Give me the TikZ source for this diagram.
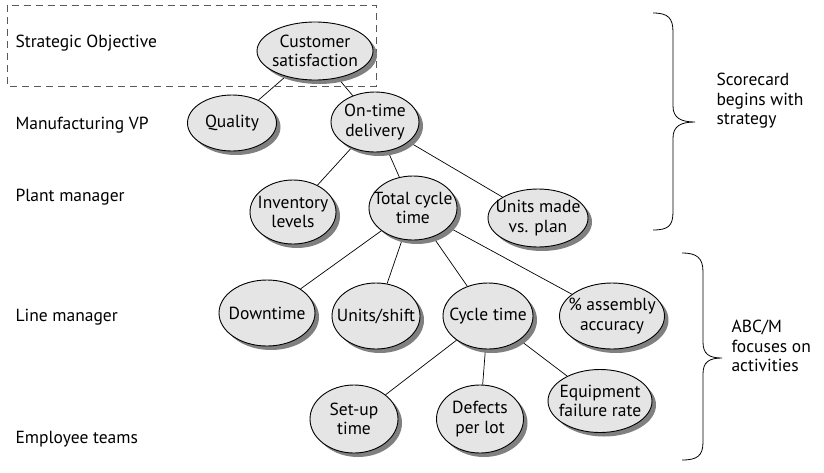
\documentclass[tikz,border=0pt]{standalone}
\usepackage{fontspec}
\setmainfont{PT Sans}
\usetikzlibrary{shapes.geometric,shadows,backgrounds}

\begin{document}
\begin{tikzpicture}[x=1pt,y=-1pt,
		every node/.style={font=\fontsize{17.5}{19.5}\selectfont},
		every label/.style={align=center,inner sep=0pt},
		goal/.style={ellipse,draw=black,line width=0.9pt,fill=black!10,
			inner sep=0pt,
			drop shadow={shadow xshift=4pt,shadow yshift=-4pt,fill=black!50,opacity=1}},
		level/.style={anchor=west},
		remark/.style={anchor=west,align=left},
		link/.style={line width=0.7pt},
		curly/.style={line width=0.8pt}]
		\useasboundingbox (0,0) rectangle (824,472);
		% Strategic objective frame
		\draw[dashed,dash pattern=on 7pt off 5pt,black!65,line width=1pt] (7,5) rectangle (376,86);
		% Levels
		\node[level] (lvobj) at (12,43) {Strategic Objective};
		\node[level] (lvvp) at (12,125) {Manufacturing VP};
		\node[level] (lvplant) at (12,197) {Plant manager};
		\node[level] (lvline) at (12,317) {Line manager};
		\node[level] (lvteam) at (12,439) {Employee teams};
		% Measures
		\node[goal,minimum width=116,minimum height=58,label=center:{Customer\\satisfaction}] (cust) at (315,51) {};
		\node[goal,minimum width=89,minimum height=56,label=center:{Quality}] (qual) at (232,123) {};
		\node[goal,minimum width=88,minimum height=60,label=center:{On-time\\delivery}] (ontime) at (375,122) {};
		\node[goal,minimum width=86,minimum height=64,label=center:{Inventory\\levels}] (inv) at (293,212) {};
		\node[goal,minimum width=88,minimum height=64,label=center:{Total cycle\\time}] (total) at (413,208) {};
		\node[goal,minimum width=100,minimum height=58,label=center:{Units made\\vs. plan}] (made) at (538,218) {};
		\node[goal,minimum width=96,minimum height=66,label=center:{Downtime}] (down) at (267,313) {};
		\node[goal,minimum width=88,minimum height=66,label=center:{Units/shift}] (shift) at (376,316) {};
		\node[goal,minimum width=90,minimum height=66,label=center:{Cycle time}] (cycle) at (488,316) {};
		\node[goal,minimum width=105,minimum height=66,label=center:{\% assembly\\accuracy}] (assy) at (612,316) {};
		\node[goal,minimum width=104,minimum height=63,label=center:{Equipment\\failure rate}] (equip) at (600,401) {};
		\node[goal,minimum width=88,minimum height=68,label=center:{Set-up\\time}] (setup) at (354,419) {};
		\node[goal,minimum width=87,minimum height=68,label=center:{Defects\\per lot}] (defect) at (480,419) {};
		% Links
		\begin{scope}[on background layer]
			\draw[link] (cust) -- (qual);
			\draw[link] (cust) -- (ontime);
			\draw[link] (ontime) -- (inv);
			\draw[link] (ontime) -- (total);
			\draw[link] (ontime) -- (made);
			\draw[link] (total) -- (down);
			\draw[link] (total) -- (shift);
			\draw[link] (total) -- (cycle);
			\draw[link] (total) -- (assy);
			\draw[link] (cycle) -- (setup);
			\draw[link] (cycle) -- (defect);
			\draw[link] (cycle) -- (equip);
		\end{scope}
		% Braces
		\draw[curly] (653,13) .. controls (668,13) and (673,18) .. (673,32)
			-- (673,106) .. controls (673,118) and (681,122) .. (695,122)
			.. controls (681,122) and (673,126) .. (673,138)
			-- (673,212) .. controls (673,226) and (668,230) .. (653,230);
		\draw[curly] (682,253) .. controls (697,253) and (703,258) .. (703,272)
			-- (703,342) .. controls (703,354) and (709,358) .. (722,358)
			.. controls (709,358) and (703,362) .. (703,374)
			-- (703,442) .. controls (703,456) and (697,460) .. (682,460);
		\node[remark] (score) at (713,101) {Scorecard\\begins with\\strategy};
		\node[remark] (abcm) at (728,346) {ABC/M\\focuses on\\activities};
	\end{tikzpicture}
\end{document}
